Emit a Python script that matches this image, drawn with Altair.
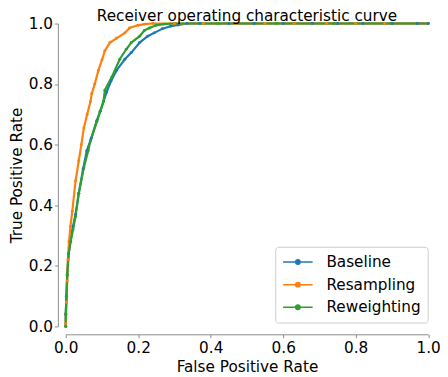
import altair as alt
import pandas as pd

series_names = ["Baseline", "Resampling", "Reweighting"]
series_colors = ["#1f77b4", "#ff7f0e", "#2ca02c"]

baseline_fpr = [0.0, 0.0, 0.002, 0.004, 0.008, 0.013, 0.020, 0.027, 0.036, 0.048, 0.058, 0.070,
                0.086, 0.095, 0.113, 0.125, 0.140, 0.163, 0.181, 0.204, 0.226, 0.244, 0.267,
                0.289, 0.310, 0.335, 0.37, 0.45, 0.52, 0.60, 0.68, 0.75, 0.82, 0.90, 0.97, 1.0]
baseline_tpr = [0.0, 0.04, 0.10, 0.17, 0.24, 0.28, 0.33, 0.37, 0.44, 0.52, 0.58, 0.62,
                0.68, 0.71, 0.774, 0.81, 0.845, 0.882, 0.904, 0.937, 0.958, 0.969, 0.983,
                0.991, 0.995, 1.0, 1.0, 1.0, 1.0, 1.0, 1.0, 1.0, 1.0, 1.0, 1.0, 1.0]

resampling_fpr = [0.0, 0.0, 0.002, 0.004, 0.006, 0.009, 0.013, 0.018, 0.027, 0.036, 0.043, 0.050,
                  0.059, 0.068, 0.072, 0.080, 0.090, 0.100, 0.108, 0.122, 0.140, 0.163, 0.176,
                  0.199, 0.217, 0.240, 0.30, 0.38, 0.47, 0.55, 0.63, 0.72, 0.80, 0.88, 1.0]
resampling_tpr = [0.0, 0.01, 0.08, 0.15, 0.22, 0.28, 0.33, 0.38, 0.48, 0.547, 0.60, 0.655,
                  0.70, 0.742, 0.769, 0.80, 0.845, 0.88, 0.91, 0.937, 0.951, 0.969, 0.985,
                  0.994, 0.998, 1.0, 1.0, 1.0, 1.0, 1.0, 1.0, 1.0, 1.0, 1.0, 1.0]

reweighting_fpr = [0.0, 0.0, 0.002, 0.004, 0.008, 0.0136, 0.020, 0.027, 0.036, 0.050, 0.062, 0.068,
                   0.086, 0.095, 0.104, 0.108, 0.127, 0.149, 0.167, 0.181, 0.204, 0.217, 0.231,
                   0.249, 0.271, 0.300, 0.42, 0.58, 0.74, 0.90, 1.0]
reweighting_tpr = [0.0, 0.04, 0.10, 0.17, 0.24, 0.28, 0.32, 0.363, 0.439, 0.525, 0.58, 0.612,
                   0.677, 0.71, 0.742, 0.78, 0.823, 0.882, 0.915, 0.937, 0.958, 0.977, 0.985,
                   0.994, 0.998, 1.0, 1.0, 1.0, 1.0, 1.0, 1.0]

tick_values = [0.0, 0.2, 0.4, 0.6, 0.8, 1.0]

rows = []
for name, fpr, tpr in [("Baseline", baseline_fpr, baseline_tpr),
                       ("Resampling", resampling_fpr, resampling_tpr),
                       ("Reweighting", reweighting_fpr, reweighting_tpr)]:
    for i, (a, b) in enumerate(zip(fpr, tpr)):
        rows.append({"series": name, "fpr": a, "tpr": b, "order": i})
df = pd.DataFrame(rows)

FONT = "DejaVu Sans"
FS = 15.5

# line with a dot in the middle; path spans [-2, 2] so it is twice the symbol box width
legend_symbol = "M-2,0H2M-0.3,0a0.3,0.3 0 1,0 0.6,0a0.3,0.3 0 1,0 -0.6,0"

chart = alt.Chart(df).mark_line(
    strokeWidth=2.2,
    clip=False,
    point=alt.OverlayMarkDef(filled=True, size=9, clip=False),
).encode(
    x=alt.X("fpr:Q",
            scale=alt.Scale(domain=[0, 1], nice=False, zero=False),
            axis=alt.Axis(title="False Positive Rate", values=tick_values, format=".1f",
                          labelFlush=False, labelPadding=3, titlePadding=4)),
    y=alt.Y("tpr:Q",
            scale=alt.Scale(domain=[0, 1], nice=False, zero=False),
            axis=alt.Axis(title="True Positive Rate", values=tick_values, format=".1f",
                          labelFlush=False, labelPadding=2, titlePadding=4)),
    color=alt.Color("series:N",
                    scale=alt.Scale(domain=series_names, range=series_colors),
                    legend=alt.Legend(title=None, orient="none", legendX=213, legendY=227,
                                      symbolType=legend_symbol, symbolSize=225,
                                      symbolStrokeWidth=1.5, symbolOffset=7.5,
                                      labelOffset=20.5,
                                      rowPadding=6, padding=7,
                                      strokeColor="#cccccc", fillColor="white",
                                      cornerRadius=3, labelFontSize=FS, labelFont=FONT,
                                      labelColor="black")),
    order="order:Q",
).properties(
    width=368.5,
    height=308,
    title=alt.TitleParams("Receiver operating characteristic curve", fontSize=FS, font=FONT,
                          fontWeight="normal", color="black", anchor="middle",
                          frame="group", offset=-8),
    padding={"left": 58.7, "top": 12.7, "right": 12, "bottom": 47},
    autosize=alt.AutoSizeParams(type="none"),
).configure_view(
    stroke=None
).configure_axis(
    grid=False,
    offset=8,
    domainColor="#8c8c8c",
    tickColor="#8c8c8c",
    tickSize=3.5,
    labelFont=FONT,
    labelFontSize=FS,
    labelColor="black",
    titleFont=FONT,
    titleFontSize=FS,
    titleFontWeight="normal",
    titleColor="black",
)

chart.save("out.html", embed_options={"renderer": "svg", "actions": False})
